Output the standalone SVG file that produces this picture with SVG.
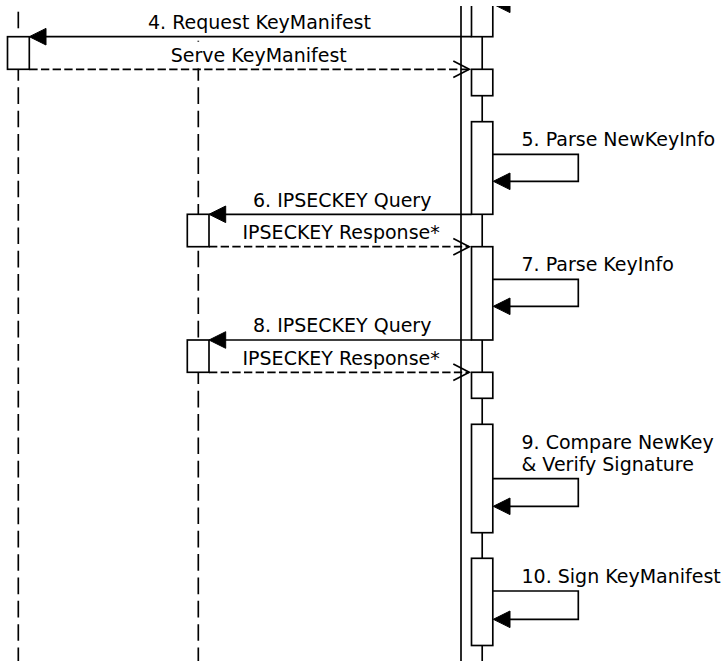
<svg xmlns="http://www.w3.org/2000/svg" width="726" height="661" viewBox="0 0 726 661">
<style>
.ll{stroke:#000;stroke-width:1.67;fill:none}
.dl{stroke:#000;stroke-width:1.67;fill:none;stroke-dasharray:16.67 6.67}
.act{fill:#fff;stroke:#000;stroke-width:1.67}
.msg{stroke:#000;stroke-width:1.67;fill:none}
.ret{stroke:#000;stroke-width:1.67;fill:none;stroke-dasharray:8.33 3.33}
.head{fill:#000;stroke:#000;stroke-width:1}
.open{fill:none;stroke:#000;stroke-width:1.67}
.lbl{font-family:"DejaVu Sans","Liberation Sans",sans-serif;font-size:19px;fill:#000}
.bg{fill:#fff;stroke:none}
</style>
<rect x="0" y="0" width="726" height="661" fill="#fff"/>
<g id="lifelines">
<g id="lifeline-left">
<line class="ll" x1="18.3" y1="11.7" x2="18.3" y2="28.3"/>
<line class="dl" x1="18.3" y1="64" x2="18.3" y2="661"/>
</g>
<line id="lifeline-mid" class="dl" x1="198.3" y1="17.3" x2="198.3" y2="661"/>
<line id="lifeline-outer" class="ll" x1="461" y1="0" x2="461" y2="661"/>
<line id="lifeline-right" class="ll" x1="482.2" y1="0" x2="482.2" y2="661"/>
</g>
<g id="labelbg">
<rect class="bg" x="146" y="8" width="230" height="28"/>
<rect class="bg" x="168" y="41.7" width="184" height="26.8"/>
</g>
<g id="connectors">
<g id="m4"><line class="msg" x1="471.5" y1="36.7" x2="45" y2="36.7"/><polygon class="head" points="29.3,36.7 46,28.4 46,45"/></g>
<g id="serve"><line class="ret" x1="29.3" y1="69.3" x2="469" y2="69.3"/><polyline class="open" points="453.3,61 469.3,69.3 453.3,77.6"/></g>
<g id="m-top"><path class="msg" d="M493,-23 H578.3 V4.3 H509"/><polygon class="head" points="493.3,4.3 510,-4 510,12.6"/></g>
<g id="m5"><path class="msg" d="M493,154.3 H578.3 V181.3 H509"/><polygon class="head" points="493.3,181.3 510,173 510,189.6"/></g>
<g id="m6"><line class="msg" x1="471.5" y1="214.3" x2="225" y2="214.3"/><polygon class="head" points="209,214.3 225.7,206 225.7,222.6"/></g>
<g id="r6"><line class="ret" x1="209" y1="246.7" x2="469" y2="246.7"/><polyline class="open" points="453.3,238.4 469.3,246.7 453.3,255"/></g>
<g id="m7"><path class="msg" d="M493,279.3 H578.3 V306.3 H509"/><polygon class="head" points="493.3,306.3 510,298 510,314.6"/></g>
<g id="m8"><line class="msg" x1="471.5" y1="340" x2="225" y2="340"/><polygon class="head" points="209,340 225.7,331.7 225.7,348.3"/></g>
<g id="r8"><line class="ret" x1="209" y1="372.3" x2="469" y2="372.3"/><polyline class="open" points="453.3,364 469.3,372.3 453.3,380.6"/></g>
<g id="m9"><path class="msg" d="M493,478.7 H578.3 V506.3 H509"/><polygon class="head" points="493.3,506.3 510,498 510,514.6"/></g>
<g id="m10"><path class="msg" d="M493,591 H578.3 V619.3 H509"/><polygon class="head" points="493.3,619.3 510,611 510,627.6"/></g>
</g>
<g id="act-left"><rect class="act" x="7.5" y="36.7" width="21.8" height="32.6"/></g>
<g id="act-mid1"><rect class="act" x="187.3" y="214.3" width="21.7" height="32.4"/></g>
<g id="act-mid2"><rect class="act" x="187.3" y="340" width="21.7" height="32.3"/></g>
<g id="act-A"><rect class="act" x="471.5" y="-10" width="21.3" height="46.7"/></g>
<g id="act-B"><rect class="act" x="471.5" y="69.3" width="21.3" height="26.4"/></g>
<g id="act-C"><rect class="act" x="471.5" y="121.7" width="21.3" height="92.6"/></g>
<g id="act-D"><rect class="act" x="471.5" y="246.7" width="21.3" height="93.3"/></g>
<g id="act-F"><rect class="act" x="471.5" y="372.3" width="21.3" height="26"/></g>
<g id="act-G"><rect class="act" x="471.5" y="424.3" width="21.3" height="108.4"/></g>
<g id="act-H"><rect class="act" x="471.5" y="558.3" width="21.3" height="87.2"/></g>
<g id="labels">
<text class="lbl" x="148" y="29">4. Request KeyManifest</text>
<text class="lbl" x="170.7" y="61.5">Serve KeyManifest</text>
<text class="lbl" x="521.5" y="146">5. Parse NewKeyInfo</text>
<text class="lbl" x="253" y="206.7">6. IPSECKEY Query</text>
<text class="lbl" x="242.5" y="239.3">IPSECKEY Response*</text>
<text class="lbl" x="521.5" y="271">7. Parse KeyInfo</text>
<text class="lbl" x="253" y="332.3">8. IPSECKEY Query</text>
<text class="lbl" x="242.5" y="364.6">IPSECKEY Response*</text>
<text class="lbl" x="521.5" y="449.3">9. Compare NewKey</text>
<text class="lbl" x="521.5" y="470.7">&amp; Verify Signature</text>
<text class="lbl" x="521.5" y="583.3">10. Sign KeyManifest</text>
</g>
<rect x="0" y="0" width="726" height="6" fill="#fff"/>
</svg>
